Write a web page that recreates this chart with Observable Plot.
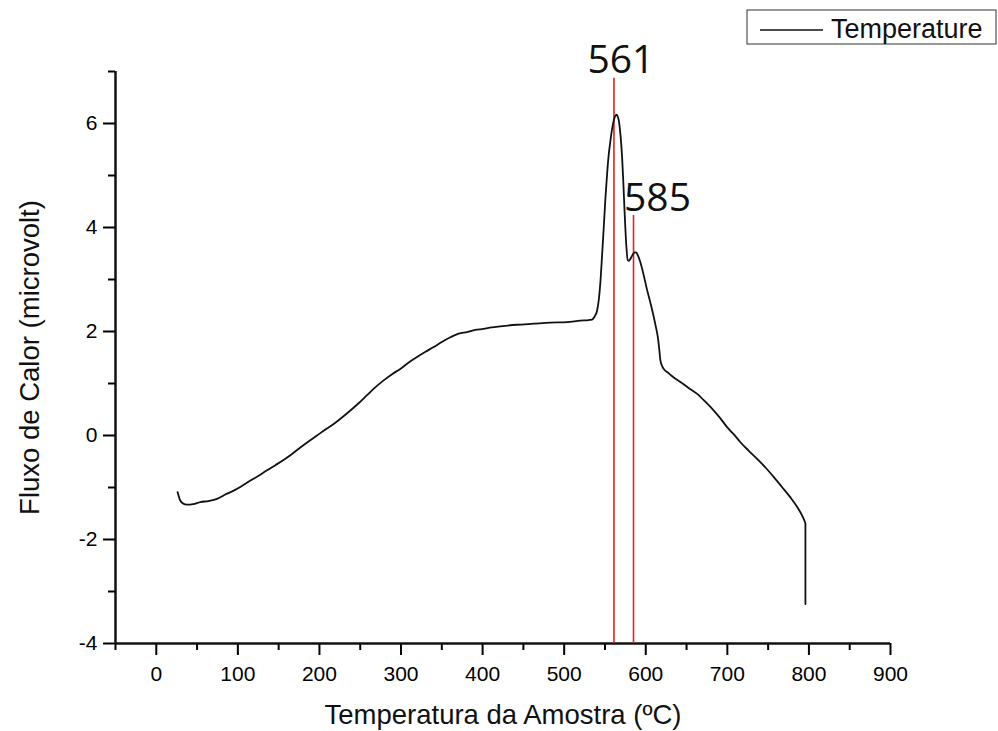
<!DOCTYPE html>
<html><head><meta charset="utf-8">
<script src="https://cdn.jsdelivr.net/npm/d3@7"></script>
<script src="https://cdn.jsdelivr.net/npm/@observablehq/plot@0.6"></script>
<style>body{margin:0;background:#fff;} #chart{position:relative;width:998px;height:731px;}</style>
</head><body><div id="chart"></div>
<script>
// Sample temperature (ºC) and heat flux (microvolt)
const temperature = [26.1, 29.4, 33, 37.6, 45, 54, 64, 74.4, 84, 94.8, 105, 115, 125, 135.7, 146, 156, 166, 176.6, 187, 197, 207, 217.4, 228, 237.9, 248, 258, 268, 278.7, 289, 299, 309, 319.6, 330, 340, 350, 360.5, 370.7, 381, 391, 401, 411, 421.8, 442, 462.6, 483, 503.5, 520, 530, 534, 537, 540.3, 542.5, 544.4, 546.4, 548.5, 550.5, 552.6, 554.6, 556.7, 558.8, 560.8, 562.5, 564, 565.5, 566.9, 569, 571, 572.4, 573.8, 575, 576.3, 578, 579.6, 581.3, 583, 584.5, 586.5, 588.2, 590.5, 593.4, 597.5, 601.6, 605.7, 609.8, 612.5, 614.8, 616.5, 618, 620.5, 623, 626.2, 634, 642.5, 652, 663, 673, 683.4, 691.5, 699.7, 708, 716, 726, 736.5, 747, 757, 767, 777.3, 785, 791.7, 794.5, 795.7, 795.7];
const flux = [-1.09, -1.25, -1.31, -1.33, -1.32, -1.28, -1.26, -1.22, -1.14, -1.06, -0.97, -0.87, -0.78, -0.67, -0.57, -0.47, -0.36, -0.23, -0.11, 0.0, 0.11, 0.22, 0.35, 0.48, 0.62, 0.77, 0.92, 1.06, 1.18, 1.28, 1.40, 1.51, 1.61, 1.70, 1.80, 1.89, 1.96, 1.99, 2.03, 2.05, 2.08, 2.10, 2.13, 2.15, 2.17, 2.18, 2.21, 2.22, 2.23, 2.28, 2.40, 2.62, 2.95, 3.45, 4.00, 4.55, 5.03, 5.40, 5.67, 5.90, 6.06, 6.14, 6.17, 6.14, 6.06, 5.78, 5.35, 4.90, 4.39, 3.98, 3.62, 3.37, 3.36, 3.40, 3.45, 3.49, 3.52, 3.52, 3.46, 3.33, 3.08, 2.80, 2.55, 2.28, 2.08, 1.89, 1.66, 1.44, 1.32, 1.26, 1.22, 1.12, 1.03, 0.92, 0.80, 0.65, 0.48, 0.33, 0.16, 0.02, -0.13, -0.29, -0.45, -0.62, -0.80, -0.99, -1.19, -1.36, -1.54, -1.64, -1.70, -3.24];

const peakTemps = [561, 585];
const peakLabels = ["561", "585"];
const peakTops = [6.87, 4.23];

const xMajorTicks = [0, 100, 200, 300, 400, 500, 600, 700, 800, 900];
const xMinorTicks = [-50, 50, 150, 250, 350, 450, 550, 650, 750, 850];
const yMajorTicks = [-4, -2, 0, 2, 4, 6];
const yMinorTicks = [-3, -1, 1, 3, 5, 7];

const xLabel = "Temperatura da Amostra (ºC)";
const yLabel = "Fluxo de Calor (microvolt)";
const seriesName = "Temperature";

const data = temperature.map((t, i) => ({t, f: flux[i]}));
const peaks = peakTemps.map((t, i) => ({t, top: peakTops[i], label: peakLabels[i]}));

const font = "'Liberation Sans', Arial, sans-serif";
const fmt = d => String(d);

const chart = Plot.plot({
  width: 998, height: 731,
  marginLeft: 115, marginRight: 108, marginTop: 71, marginBottom: 88,
  x: {domain: [-50, 900]},
  y: {domain: [-4, 7]},
  style: {fontFamily: font, background: "white", color: "#000", overflow: "visible"},
  marks: [
    Plot.axisX(xMinorTicks, {tickSize: 7, strokeWidth: 2, tickFormat: () => "", label: null}),
    Plot.axisX(xMajorTicks, {tickSize: 12, strokeWidth: 2, tickPadding: 11, fontSize: 21, tickFormat: fmt, label: null}),
    Plot.axisY(yMinorTicks, {tickSize: 7, strokeWidth: 2, tickFormat: () => "", label: null}),
    Plot.axisY(yMajorTicks, {tickSize: 12, strokeWidth: 2, tickPadding: 6, fontSize: 21, tickFormat: fmt, label: null}),
    Plot.ruleY([-4], {stroke: "#111", strokeWidth: 2.5}),
    Plot.ruleX([-50], {stroke: "#111", strokeWidth: 2.5}),
    Plot.ruleX(peaks, {x: "t", y1: -4, y2: "top", stroke: "#e02222", strokeWidth: 1.6}),
    Plot.line(data, {x: "t", y: "f", stroke: "#111", strokeWidth: 1.8, curve: "monotone-x"}),
    Plot.text([peaks[0]], {x: "t", y: "top", text: "label", dx: 7, dy: -5, lineAnchor: "bottom", fontFamily: "'Open Sans', sans-serif", fontSize: 39, fill: "#111"}),
    Plot.text([peaks[1]], {x: "t", y: "top", text: "label", dx: 24, dy: -5, lineAnchor: "bottom", fontFamily: "'Open Sans', sans-serif", fontSize: 39, fill: "#111"}),
    Plot.text([xLabel], {frameAnchor: "bottom", dy: 80, textAnchor: "middle", lineAnchor: "bottom", fontSize: 27.5, fill: "#111"}),
    Plot.text([yLabel], {frameAnchor: "left", dx: -77, rotate: -90, textAnchor: "middle", lineAnchor: "bottom", fontSize: 27.5, fill: "#111"})
  ]
});

// legend
const svg = d3.select(chart);
const lg = svg.append("g");
lg.append("rect").attr("x", 747).attr("y", 10).attr("width", 249).attr("height", 34)
  .attr("fill", "white").attr("stroke", "#333").attr("stroke-width", 1);
lg.append("line").attr("x1", 760).attr("x2", 823).attr("y1", 30).attr("y2", 30)
  .attr("stroke", "#111").attr("stroke-width", 1.5);
lg.append("text").attr("x", 831).attr("y", 38).attr("text-anchor", "start").text(seriesName)
  .attr("font-family", font).attr("font-size", 27).attr("fill", "#111");

document.getElementById("chart").appendChild(chart);
</script>
</body></html>
